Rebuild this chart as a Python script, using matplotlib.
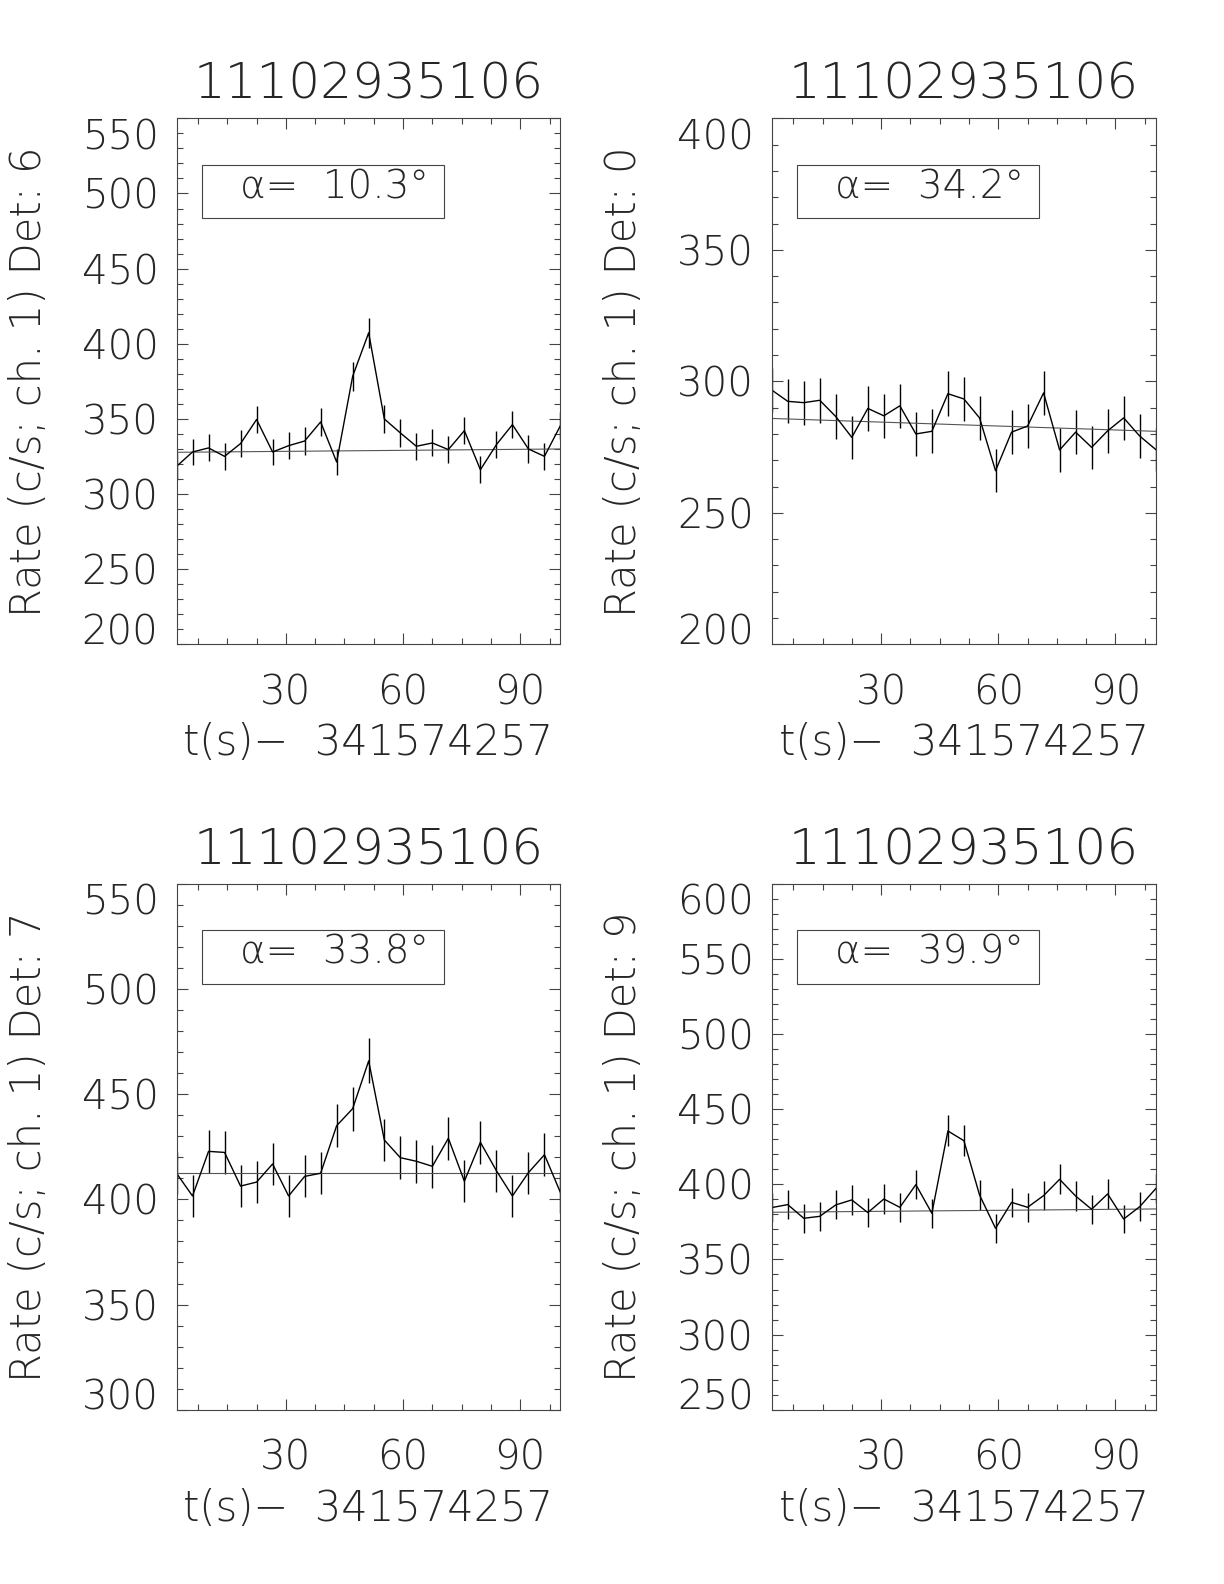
import numpy as np
import matplotlib
matplotlib.use("Agg")
import matplotlib.pyplot as plt
from matplotlib.ticker import MultipleLocator

# bin times, t(s) - 341574257
t = [2.0, 6.1, 10.2, 14.3, 18.4, 22.5, 26.6, 30.7, 34.8, 38.9, 43.0, 47.1, 51.2,
     55.2, 59.3, 63.4, 67.5, 71.6, 75.7, 79.8, 83.9, 88.0, 92.1, 96.2, 100.3]

# det 6
rate_d6 = [318.4, 328.0, 330.7, 325.1, 333.6, 349.6, 328.0, 332.2, 335.3, 348.0, 321.3, 378.4, 407.3,
           350.0, 340.7, 331.8, 334.0, 329.6, 342.2, 316.2, 332.9, 346.2, 330.0, 325.1, 345.6]
err_d6 = [8.8, 8.9, 9.0, 8.9, 9.0, 9.2, 8.9, 9.0, 9.0, 9.2, 8.9, 9.6, 10.0,
          9.2, 9.1, 9.0, 9.0, 9.0, 9.1, 8.8, 9.0, 9.2, 9.0, 8.9, 9.2]
fit_d6 = [327.8, 330.0]

# det 0
rate_d0 = [296.7, 292.4, 291.9, 292.8, 286.6, 278.7, 289.7, 286.9, 290.7, 280.0, 281.0, 295.3, 293.3,
           286.1, 266.0, 280.7, 283.0, 295.6, 273.9, 280.7, 274.9, 281.2, 286.1, 279.2, 274.1]
err_d0 = [8.5, 8.4, 8.4, 8.5, 8.4, 8.2, 8.4, 8.4, 8.4, 8.3, 8.3, 8.5, 8.5,
          8.4, 8.1, 8.3, 8.3, 8.5, 8.2, 8.3, 8.2, 8.3, 8.4, 8.3, 8.2]
fit_d0 = [285.9, 281.0]

# det 7
rate_d7 = [412.4, 401.6, 422.8, 422.3, 406.3, 408.2, 416.8, 401.6, 410.9, 412.4, 435.0, 443.1, 465.8,
           428.2, 419.8, 418.1, 415.7, 429.0, 408.6, 427.1, 413.6, 401.6, 412.7, 421.2, 403.2]
err_d7 = [10.0, 9.9, 10.2, 10.1, 10.0, 10.0, 10.1, 9.9, 10.0, 10.0, 10.3, 10.4, 10.7,
          10.2, 10.1, 10.1, 10.1, 10.2, 10.0, 10.2, 10.0, 9.9, 10.0, 10.1, 9.9]
fit_d7 = [412.5, 412.5]

# det 9
rate_d9 = [384.5, 386.5, 377.4, 378.7, 386.3, 389.6, 381.2, 390.2, 384.7, 399.8, 380.7, 435.5, 429.0,
           392.9, 370.7, 388.0, 384.7, 392.5, 403.3, 392.2, 383.4, 393.6, 376.9, 385.1, 397.1]
err_d9 = [9.7, 9.7, 9.6, 9.6, 9.7, 9.8, 9.6, 9.8, 9.7, 9.9, 9.6, 10.3, 10.2,
          9.8, 9.5, 9.7, 9.7, 9.8, 9.9, 9.8, 9.7, 9.8, 9.6, 9.7, 9.8]
fit_d9 = [381.4, 383.6]

dets = [6, 0, 7, 9]
alphas = [10.3, 34.2, 33.8, 39.9]
ylims = [(200, 550), (200, 400), (300, 550), (250, 600)]
rates = [rate_d6, rate_d0, rate_d7, rate_d9]
errs = [err_d6, err_d0, err_d7, err_d9]
fits = [fit_d6, fit_d0, fit_d7, fit_d9]
burst = "11102935106"
t0 = "341574257"

# thin font to look like the IDL vector font
plt.rcParams['font.family'] = ['DejaVu Sans']
plt.rcParams['font.weight'] = 200
W = 200
TXT = '#262626'
EDGE = '#444444'

fig = plt.figure(figsize=(12.24, 15.84), dpi=100)
rects = [[0.1442, 0.5932, 0.3137, 0.3321], [0.6305, 0.5932, 0.3137, 0.3321],
         [0.1442, 0.1100, 0.3137, 0.3321], [0.6305, 0.1100, 0.3137, 0.3321]]

for i in range(4):
    ax = fig.add_axes(rects[i])
    ax.errorbar(t, rates[i], yerr=errs[i], color='k', lw=1.0, elinewidth=1.0, capsize=0)
    ax.plot([t[0], t[-1]], fits[i], color='#555555', lw=0.8)
    ax.set_xlim(t[0], t[-1])
    ax.set_ylim(*ylims[i])
    ax.set_xticks([30, 60, 90])
    ax.xaxis.set_minor_locator(MultipleLocator(7.5))
    ax.set_yticks(np.arange(ylims[i][0], ylims[i][1] + 1, 50))
    ax.yaxis.set_minor_locator(MultipleLocator(10))
    ax.tick_params(which='both', direction='in', top=True, right=True, color=EDGE, width=0.8)
    ax.tick_params(which='major', length=8)
    ax.tick_params(which='minor', length=4)
    ax.tick_params(axis='x', pad=21, labelsize=29, labelcolor=TXT)
    ax.tick_params(axis='y', pad=13, labelsize=29, labelcolor=TXT)
    for s in ax.spines.values():
        s.set_color(EDGE)
        s.set_linewidth(0.8)
    yt = ax.yaxis.get_major_ticks()
    yt[0].label1.set_verticalalignment('baseline')
    yt[-1].label1.set_verticalalignment('top')

    ax.set_title(burst, fontsize=36, color=TXT, pad=14, fontweight=W)
    ax.set_xlabel("t(s)\u2212  " + t0, fontsize=30, color=TXT, labelpad=7, fontweight=W)
    ax.text(-0.385, 0.5, "Rate (c/s; ch. 1) Det: %d" % dets[i], transform=ax.transAxes,
            rotation=90, ha='center', va='center', fontsize=30, color=TXT, fontweight=W)

    ax.add_patch(plt.Rectangle((0.0656, 0.810), 0.631, 0.102, transform=ax.transAxes,
                               fill=False, ec=EDGE, lw=0.8))
    ax.text(0.165, 0.848, "α=  %.1f°" % alphas[i], transform=ax.transAxes,
            ha='left', va='baseline', fontsize=28, color=TXT, fontweight=W)

fig.savefig("out.png", dpi=100)
